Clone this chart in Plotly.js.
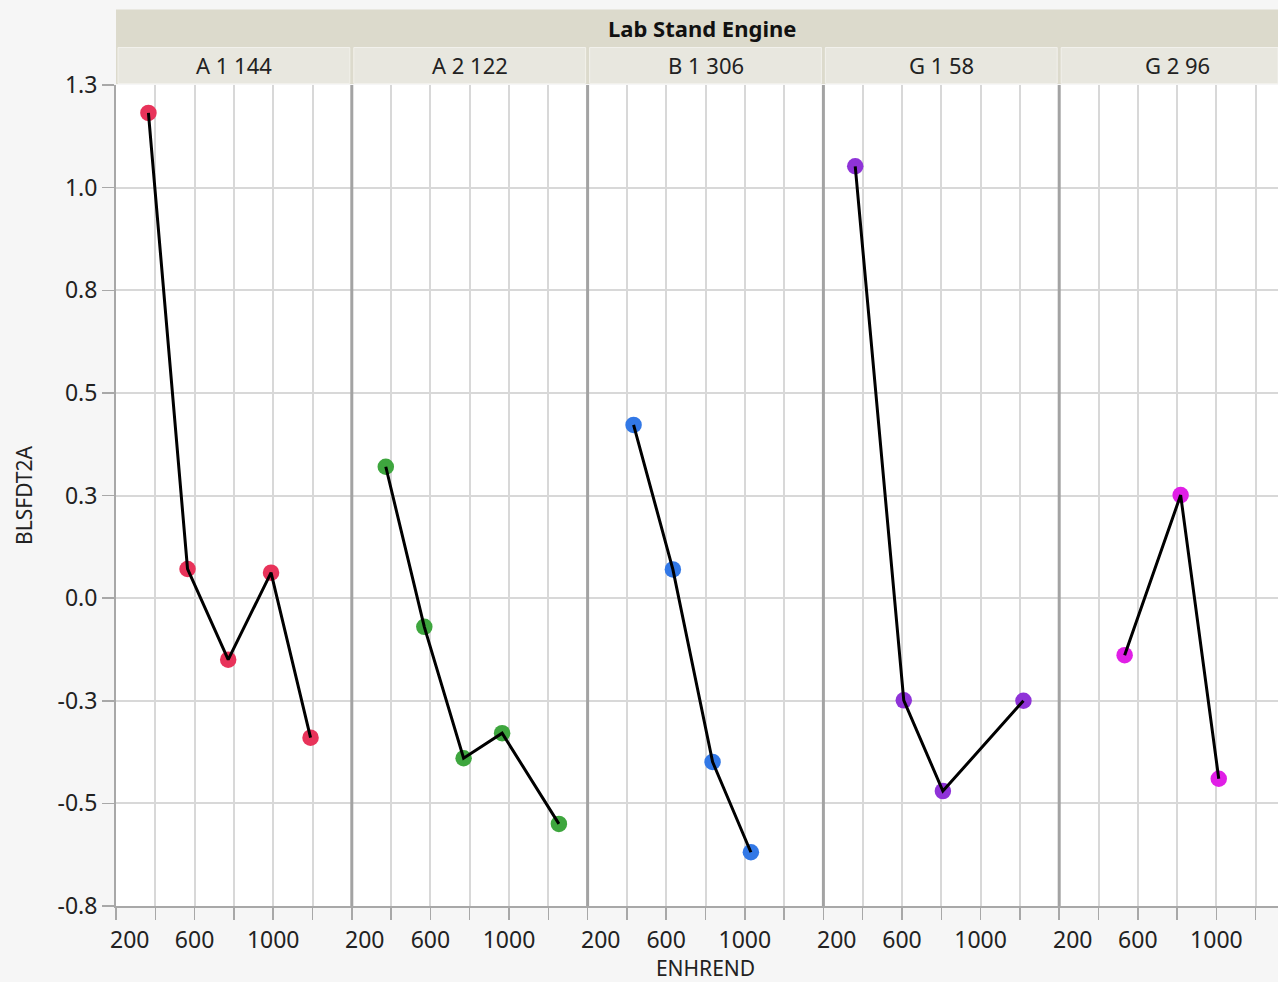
<!DOCTYPE html>
<html>
<head>
<meta charset="utf-8">
<script src="https://cdn.plot.ly/plotly-3.0.1.min.js"></script>
<style>
  html, body { margin: 0; padding: 0; background: #f6f6f6; overflow: hidden; }
  #chart { width: 1278px; height: 982px; }
</style>
</head>
<body>
<div id="chart"></div>
<script>
// Lab / Stand / Engine groups and their ENHREND vs BLSFDT2A readings
const groups = ['A 1 144', 'A 2 122', 'B 1 306', 'G 1 58', 'G 2 96'];

const enhrendA1 = [365, 564, 771, 989, 1190];
const blsfA1    = [1.182, 0.071, -0.150, 0.062, -0.340];

const enhrendA2 = [373, 569, 769, 965, 1254];
const blsfA2    = [0.320, -0.070, -0.390, -0.329, -0.550];

const enhrendB1 = [434, 634, 836, 1031];
const blsfB1    = [0.422, 0.070, -0.399, -0.619];

const enhrendG1 = [362, 609, 808, 1218];
const blsfG1    = [1.052, -0.249, -0.470, -0.250];

const enhrendG2 = [533, 818, 1012];
const blsfG2    = [-0.139, 0.251, -0.440];

const xTickVals = [200, 400, 600, 800, 1000, 1200];
const xTickText = ['', '', '600', '', '1000', ''];
const xFirstLabel = '200';
const yTickVals = [-0.75, -0.5, -0.25, 0, 0.25, 0.5, 0.75, 1, 1.25];
const yTickText = ['-0.8', '-0.5', '-0.3', '0.0', '0.3', '0.5', '0.8', '1.0', '1.3'];

const seriesX = [enhrendA1, enhrendA2, enhrendB1, enhrendG1, enhrendG2];
const seriesY = [blsfA1, blsfA2, blsfB1, blsfG1, blsfG2];
const colors = ['#e8335a', '#3ea63e', '#3278e6', '#8f33d8', '#e01fe6'];

// ---- geometry (pixels) ----
const W = 1278, H = 982;
const mL = 116, mT = 85, mB = 76, mR = 0;
const plotW = W - mL - mR, plotH = H - mT - mB;
const panelW = 235.8;
const FONT = 'Noto Sans, Open Sans, DejaVu Sans, sans-serif';
const py = px => (H - mB - px) / plotH;           // page y(px) -> paper y
const pxX = px => (px - mL) / plotW;               // page x(px) -> paper x

const layout = {
  width: W, height: H,
  margin: { l: mL, r: mR, t: mT, b: mB, pad: 0 },
  paper_bgcolor: '#f6f6f6',
  plot_bgcolor: '#ffffff',
  showlegend: false,
  font: { family: FONT, color: '#222222' },
  shapes: [], annotations: []
};

const data = [];

groups.forEach((g, i) => {
  const ax = i === 0 ? 'x' : 'x' + (i + 1);
  const key = i === 0 ? 'xaxis' : 'xaxis' + (i + 1);
  const d0 = i * panelW / plotW;
  const d1 = Math.min(1, (i + 1) * panelW / plotW);
  const visibleW = (d1 - d0) * plotW;
  const xmax = 200 + visibleW / panelW * 1200;

  layout[key] = {
    domain: [d0, d1],
    anchor: 'y',
    range: [200, xmax],
    tickmode: 'array',
    tickvals: xTickVals,
    ticktext: xTickText,
    ticks: 'outside', ticklen: 12, tickwidth: 1.5, tickcolor: '#a8a8a8',
    tickfont: { family: FONT, size: 23, color: '#222222' },
    showgrid: true, gridcolor: '#d8d8d8', gridwidth: 2,
    showline: true, linecolor: '#a8a8a8', linewidth: 2,
    zeroline: false, fixedrange: true
  };
  if (i === 2) {
    layout[key].title = { text: 'ENHREND', standoff: 1, font: { family: FONT, size: 21, color: '#222222' } };
  }

  // "200" label sits just right of its tick
  layout.annotations.push({
    xref: ax, yref: 'paper', x: 200, y: 0, xshift: 13, yshift: -15,
    yanchor: 'top', xanchor: 'center', showarrow: false,
    text: xFirstLabel, font: { family: FONT, size: 23, color: '#222222' }
  });

  // strip for each group
  layout.shapes.push({
    type: 'rect', xref: 'paper', yref: 'paper', layer: 'above',
    x0: d0 + 2 / plotW, x1: Math.min(1, (i + 1) * panelW / plotW) - (i < 4 ? 2 / plotW : 0),
    y0: py(83.5), y1: py(47.5),
    fillcolor: '#e8e7df', line: { color: '#f2f1ec', width: 1 }
  });
  layout.annotations.push({
    xref: 'paper', yref: 'paper',
    x: (i + 0.5) * panelW / plotW, y: py(65),
    xanchor: 'center', yanchor: 'middle', showarrow: false,
    text: g, font: { family: FONT, size: 22, color: '#222222' }
  });

  // points, then the connecting line on top of them
  data.push({
    type: 'scatter', mode: 'markers', xaxis: ax, yaxis: 'y',
    x: seriesX[i], y: seriesY[i],
    marker: { size: 16.5, color: colors[i] },
    cliponaxis: false, hoverinfo: 'x+y'
  });
  data.push({
    type: 'scatter', mode: 'lines', xaxis: ax, yaxis: 'y',
    x: seriesX[i], y: seriesY[i],
    line: { color: '#000000', width: 3 },
    hoverinfo: 'skip'
  });
});

layout.yaxis = {
  domain: [0, 1], anchor: 'x',
  range: [-0.75, 1.25],
  tickmode: 'array', tickvals: yTickVals, ticktext: yTickText,
  ticks: 'outside', ticklen: 12, tickwidth: 1.5, tickcolor: '#a8a8a8',
  tickfont: { family: FONT, size: 23, color: '#222222' },
  showgrid: true, gridcolor: '#d8d8d8', gridwidth: 2,
  showline: true, linecolor: '#a8a8a8', linewidth: 2,
  zeroline: false, fixedrange: true,
  title: { text: 'BLSFDT2A', standoff: 19, font: { family: FONT, size: 21, color: '#222222' } }
};

// panel separators
for (let i = 1; i < groups.length; i++) {
  const xp = i * panelW / plotW;
  layout.shapes.push({
    type: 'line', xref: 'paper', yref: 'paper', layer: 'above',
    x0: xp, x1: xp, y0: 0, y1: 1,
    line: { color: '#a3a3a3', width: 3 }
  });
}

// outer header band
layout.shapes.unshift({
  type: 'rect', xref: 'paper', yref: 'paper', layer: 'above',
  x0: 0, x1: 1, y0: py(84), y1: py(9.5),
  fillcolor: '#dcdacc', line: { width: 0 }
});
layout.annotations.push({
  xref: 'paper', yref: 'paper', x: pxX(702), y: py(27.5),
  xanchor: 'center', yanchor: 'middle', showarrow: false,
  text: '<b>Lab Stand Engine</b>', font: { family: FONT, size: 22, color: '#111111' }
});

Plotly.newPlot('chart', data, layout, { displayModeBar: false, staticPlot: true });
</script>
</body>
</html>
